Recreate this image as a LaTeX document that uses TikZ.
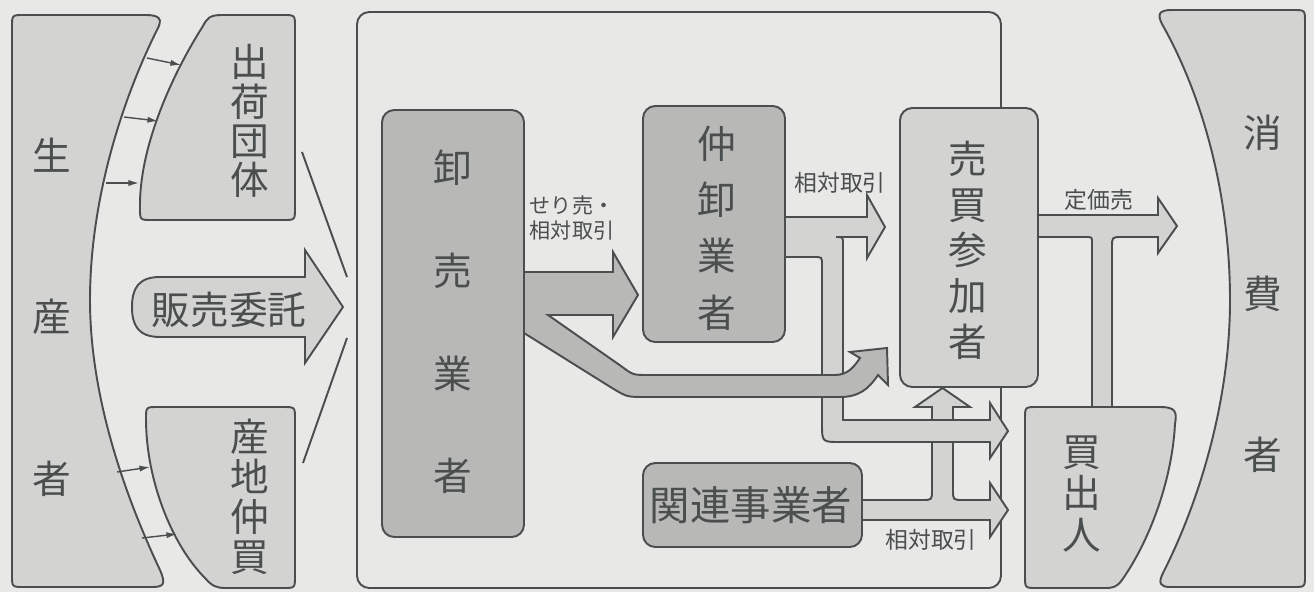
\documentclass[tikz,border=0pt]{standalone}
\usepackage{fontspec}
\newfontfamily\jp{Noto Sans CJK JP}
\usetikzlibrary{arrows.meta}
\definecolor{paper}{RGB}{232,232,230}
\definecolor{lightfill}{RGB}{211,211,210}
\definecolor{darkfill}{RGB}{184,184,183}
\definecolor{ink}{RGB}{74,78,78}

\begin{document}
\begin{tikzpicture}[x=0.02cm, y=-0.02cm, line width=1.1pt,
	outline/.style={draw=ink, fill=lightfill},
	darkflow/.style={draw=ink, fill=darkfill},
	darkbox/.style={draw=ink, fill=darkfill, rounded corners=7pt},
	lightbox/.style={draw=ink, fill=lightfill, rounded corners=7pt},
	jfont/.style={font=\jp\fontsize{22}{#1}\selectfont},
	vtext/.style={inner sep=0pt, align=center, text=ink},
	small/.style={inner sep=0pt, align=center, text=ink, font=\jp\fontsize{13}{15}\selectfont},
	smallarrow/.style={draw=ink, line width=0.8pt, -{Latex[length=6pt,width=3.5pt]}}]
	\fill[paper] (0,0) rectangle (1314,592);
	\useasboundingbox (0,0) rectangle (1314,592);

	% producers and consumers
	\draw[outline] (12,300) -- (12,27) .. controls (12,15) .. (24,15) -- (145,15)
		.. controls (160,15) and (163,19) .. (157,30)
		.. controls (122,100) and (90,200) .. (90,300)
		.. controls (90,400) and (127,500) .. (160,570)
		.. controls (166,584) and (164,587) .. (152,587) -- (24,587) .. controls (12,587) .. (12,575) -- cycle;
	\draw[outline] (295,120) -- (295,27) .. controls (295,15) .. (283,15) -- (222,15)
		.. controls (210,15) and (207,18) .. (203,26)
		.. controls (178,65) and (140,140) .. (140,205) -- (140,208) .. controls (140,220) .. (152,220)
		-- (283,220) .. controls (295,220) .. (295,208) -- cycle;
	\draw[outline] (295,500) -- (295,419) .. controls (295,407) .. (283,407) -- (158,407)
		.. controls (146,407) .. (146,419)
		.. controls (146,480) and (172,545) .. (205,578)
		.. controls (212,586) and (216,588) .. (226,588) -- (283,588) .. controls (295,588) .. (295,576) -- cycle;
	\draw[outline] (1305,300) -- (1305,22) .. controls (1305,10) .. (1293,10) -- (1172,10)
		.. controls (1159,10) and (1157,14) .. (1162,24)
		.. controls (1205,100) and (1230,200) .. (1230,300)
		.. controls (1230,400) and (1200,500) .. (1163,573)
		.. controls (1158,583) and (1160,587) .. (1170,587) -- (1293,587) .. controls (1305,587) .. (1305,575) -- cycle;
	\draw[outline] (1025,500) -- (1025,419) .. controls (1025,407) .. (1037,407) -- (1160,407)
		.. controls (1176,407) and (1177,412) .. (1175,424)
		.. controls (1172,480) and (1150,540) .. (1122,580)
		.. controls (1117,587) and (1113,588) .. (1105,588) -- (1037,588) .. controls (1025,588) .. (1025,576) -- cycle;

	% market
	\draw[ink, rounded corners=7pt] (357,12) rectangle (1001,588);
	\path[darkbox] (382,110) rectangle (524,537);
	\path[darkbox] (643,106) rectangle (785,342);
	\path[darkbox] (643,463) rectangle (862,547);
	\path[lightbox] (900,108) rectangle (1038,387);

	% flows
	\draw[outline] (305,277) -- (305,250) -- (343,307) -- (305,363) -- (305,337) -- (160,337)
		.. controls (138,337) and (132,325) .. (132,307) .. controls (132,289) and (138,277) .. (160,277) -- cycle;
	\draw[outline] (1038,215) -- (1158,215) -- (1158,198) -- (1177,226) -- (1158,253) -- (1158,237) -- (1122,237)
		.. controls (1112,237) .. (1112,247) -- (1112,407) -- (1092,407) -- (1092,243)
		.. controls (1092,237) .. (1086,237) -- (1038,237) -- cycle;
	\draw[outline] (862,500) -- (922,500) .. controls (932,500) .. (932,490) -- (932,407) -- (915,407)
		-- (942.5,388) -- (970,407) -- (953,407) -- (953,490) .. controls (953,500) .. (963,500)
		-- (990,500) -- (990,483) -- (1008,510) -- (990,537) -- (990,520) -- (862,520) -- cycle;
	\draw[outline] (785,217) -- (867,217) -- (867,195) -- (885,227) -- (867,258) -- (867,237) -- (836,237)
		.. controls (843,237) .. (843,244) -- (843,420) -- (990,420) -- (990,403) -- (1008,431)
		-- (990,458) -- (990,442) -- (840,442) .. controls (822,442) .. (822,424) -- (822,265)
		.. controls (822,257) .. (814,257) -- (785,257) -- cycle;
	\draw[darkflow] (524,272) -- (613,272) -- (613,252) -- (638,295) -- (613,337) -- (613,315) -- (548,315)
		-- (621,366) .. controls (633,375) .. (648,375) -- (835,375) .. controls (849,375) and (855,365) .. (860,358)
		-- (850,352) -- (887,348) -- (888,385) -- (878,375) .. controls (868,390) and (858,397) .. (840,397)
		-- (645,397) .. controls (627,397) .. (612,388) -- (524,333) -- cycle;

	% texts
	\node[vtext, jfont=92] (prod) at (52,317) {生\\産\\者};
	\node[vtext, jfont=22.3] (shukka) at (250,121) {出\\荷\\団\\体};
	\node[vtext, jfont=22.7] (sanchi) at (250,497) {産\\地\\仲\\買};
	\node[vtext, jfont=26] (hanbai) at (229,310) {販売委託};
	\node[vtext, jfont=58.4] (oroshi) at (453,322) {卸\\売\\業\\者};
	\node[vtext, jfont=32] (nakaoroshi) at (717,228) {仲\\卸\\業\\者};
	\node[vtext, font=\jp\fontsize{23}{26}\selectfont] (kanren) at (751,505) {関連事業者};
	\node[vtext, jfont=26] (baibai) at (968,250) {売\\買\\参\\加\\者};
	\node[vtext, jfont=23.5] (kaidashi) at (1082,494) {買\\出\\人};
	\node[vtext, jfont=91.6] (shohi) at (1263,294) {消\\費\\者};

	\node[small, font=\jp\fontsize{12}{14.2}\selectfont] (seri) at (572,218) {せり売・\\相対取引};
	\node[small] (aitai1) at (840,183) {相対取引};
	\node[small] (teika) at (1099,200) {定価売};
	\node[small] (aitai2) at (931,540) {相対取引};

	% small arrows into the collecting bodies
	\coordinate (p1) at (147,58);  \coordinate (q1) at (181,65);
	\coordinate (p2) at (124,117); \coordinate (q2) at (158,121);
	\coordinate (p3) at (106,183); \coordinate (q3) at (139,183);
	\coordinate (p4) at (117,472); \coordinate (q4) at (150,467);
	\coordinate (p5) at (142,538); \coordinate (q5) at (177,534);
	\foreach \i in {1,...,5}
	{
	\draw[smallarrow] (p\i) -- (q\i);
}

	\coordinate (c1) at (302,152);
	\coordinate (c2) at (347,277);
	\coordinate (c3) at (347,338);
	\coordinate (c4) at (303,463);
	\draw[ink] (c1) -- (c2) (c3) -- (c4);

\end{tikzpicture}
\end{document}
